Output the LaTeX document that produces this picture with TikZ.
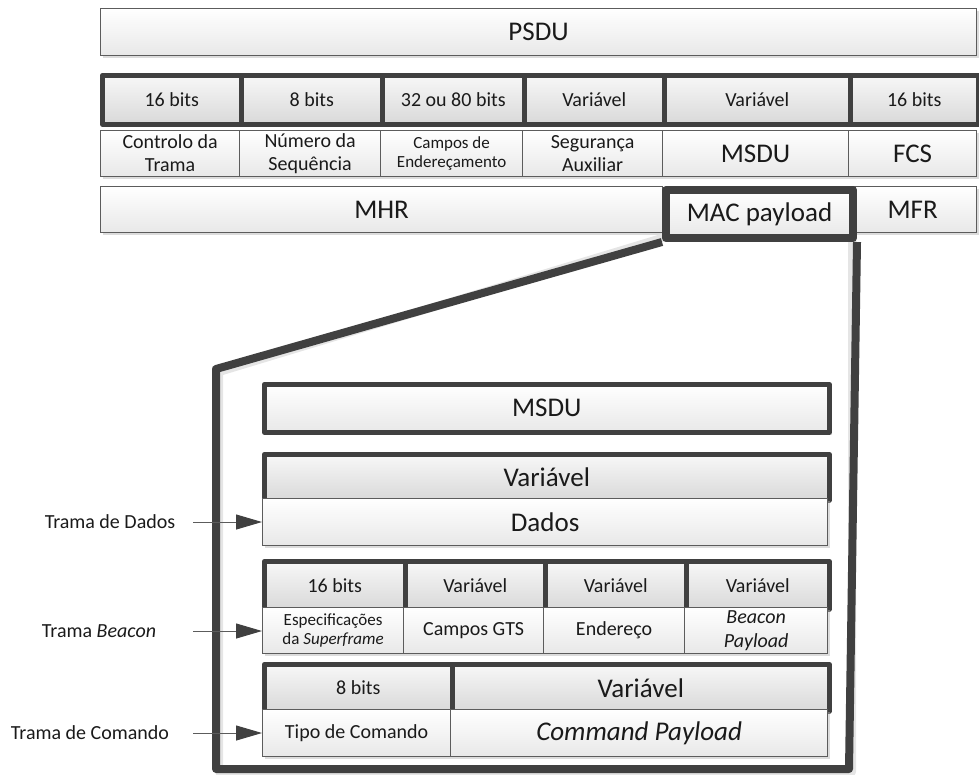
\documentclass[tikz,border=0pt]{standalone}
\usepackage{fontspec}
\setmainfont{Carlito}
\usetikzlibrary{arrows.meta,shadows}
\definecolor{frame}{HTML}{404040}
\definecolor{thinline}{HTML}{5C5C5C}
\definecolor{ink}{HTML}{1A1A1A}
\tikzset{
  cellbase/.style={rectangle, anchor=north west, inner sep=0pt, align=center, text=ink},
  plaincell/.style={cellbase, draw=thinline, line width=1.2pt, top color=white, bottom color=black!9,
    drop shadow={shadow xshift=2.5pt, shadow yshift=-2.5pt, fill=black!30, opacity=.45}},
  bitcell/.style={cellbase, draw=frame, line width=4.5pt, line join=round, top color=black!3, bottom color=black!15},
  boxframe/.style={cellbase, draw=frame, line width=4.5pt, line join=round, top color=white, bottom color=black!9,
    drop shadow={shadow xshift=2.5pt, shadow yshift=-2.5pt, fill=black!30, opacity=.45}},
  boldframe/.style={draw=frame, line width=8pt, line join=round},
  boldshadow/.style={draw=black!10, line width=8pt, line join=round},
  big/.style={font=\fontsize{27}{31}\selectfont},
  mid/.style={font=\fontsize{20}{23}\selectfont},
  small/.style={font=\fontsize{17}{19.5}\selectfont},
  sidelabel/.style={font=\fontsize{20}{23}\selectfont, text=ink, inner sep=0pt},
  feed/.style={draw=thinline, line width=1pt, -{Triangle[length=26pt, width=15pt, color=frame]}},
}
% \Cell{style}{name}{x0}{y0}{x1}{y1}{text}
\newcommand\Cell[7]{%
  \node[#1, minimum width={(#5-#3)*1pt}, minimum height={(#6-#4)*1pt}] (#2) at (#3,#4) {#7};}
\begin{document}
\begin{tikzpicture}[x=1pt, y=-1pt]
\useasboundingbox (0,0) rectangle (979,774);

% ---- PSDU ----
\Cell{plaincell, big}{psdu}{100}{8}{976}{55}{PSDU}

% ---- MAC frame field sizes ----
\Cell{bitcell, mid}{b1}{100}{73}{239}{122}{16 bits}
\Cell{bitcell, mid}{b2}{239}{73}{380}{122}{8 bits}
\Cell{bitcell, mid}{b3}{380}{73}{522}{122}{32 ou 80 bits}
\Cell{bitcell, mid}{b4}{522}{73}{662}{122}{Variável}
\Cell{bitcell, mid}{b5}{662}{73}{848}{122}{Variável}
\Cell{bitcell, mid}{b6}{848}{73}{976}{122}{16 bits}

% ---- MAC frame fields ----
\Cell{plaincell, mid}{f1}{100}{130}{239}{176}{Controlo da\\Trama}
\Cell{plaincell, mid}{f2}{239}{130}{380}{176}{Número da\\Sequência}
\Cell{plaincell, small}{f3}{380}{130}{522}{176}{Campos de\\Endereçamento}
\Cell{plaincell, mid}{f4}{522}{130}{662}{176}{Segurança\\Auxiliar}
\Cell{plaincell, big}{f5}{662}{130}{848}{176}{MSDU}
\Cell{plaincell, big}{f6}{848}{130}{976}{176}{FCS}

% ---- MHR / payload / MFR ----
\Cell{plaincell, big}{mhr}{100}{186}{662}{232}{MHR}
\Cell{plaincell, big}{mfr}{848}{186}{976}{232}{MFR}

% ---- expanded payload outline ----
\draw[boldshadow] (665,237) -- (219,372) -- (219,772) -- (852,772) -- (852,237);
\Cell{cellbase, big, draw=frame, line width=8pt, line join=round, top color=white, bottom color=black!9}{mac}{662}{186}{849}{234}{MAC payload}
\draw[boldframe] (mac.south west) -- (216,369) -- (216,769) -- (849,769) -- (mac.south east);

% ---- MSDU ----
\Cell{boxframe, big}{msdu}{262}{382}{827}{430}{MSDU}

% ---- data frame ----
\Cell{bitcell, big}{dv}{262}{452}{827}{498}{Variável}
\Cell{plaincell, big}{dados}{262}{498}{827}{545}{Dados}

% ---- beacon frame ----
\Cell{bitcell, mid}{bb1}{262}{559}{403}{607}{16 bits}
\Cell{bitcell, mid}{bb2}{403}{559}{543}{607}{Variável}
\Cell{bitcell, mid}{bb3}{543}{559}{684}{607}{Variável}
\Cell{bitcell, mid}{bb4}{684}{559}{827}{607}{Variável}
\Cell{plaincell, small}{bf1}{262}{607}{403}{653}{Especificações\\da \textit{Superframe}}
\Cell{plaincell, mid}{bf2}{403}{607}{543}{653}{Campos GTS}
\Cell{plaincell, mid}{bf3}{543}{607}{684}{653}{Endereço}
\Cell{plaincell, mid, font=\fontsize{20}{24}\selectfont\itshape}{bf4}{684}{607}{827}{653}{Beacon\\Payload}

% ---- command frame ----
\Cell{bitcell, mid}{cb1}{262}{662}{450}{709}{8 bits}
\Cell{bitcell, big}{cb2}{450}{662}{827}{709}{Variável}
\Cell{plaincell, mid}{cf1}{262}{709}{450}{756}{Tipo de Comando}
\Cell{plaincell, big, font=\fontsize{27}{31}\selectfont\itshape}{cf2}{450}{709}{827}{756}{Command Payload}

% ---- side labels ----
\node[sidelabel] (ld) at (110,522) {Trama de Dados};
\node[sidelabel] (lb) at (99,631) {Trama \textit{Beacon}};
\node[sidelabel] (lc) at (90,733) {Trama de Comando};
\coordinate (td) at (193,522);
\coordinate (tb) at (193,631);
\coordinate (tc) at (193,733);
\draw[feed] (td) -- (td -| dados.west);
\draw[feed] (tb) -- (tb -| bf1.west);
\draw[feed] (tc) -- (tc -| cf1.west);
\end{tikzpicture}
\end{document}
